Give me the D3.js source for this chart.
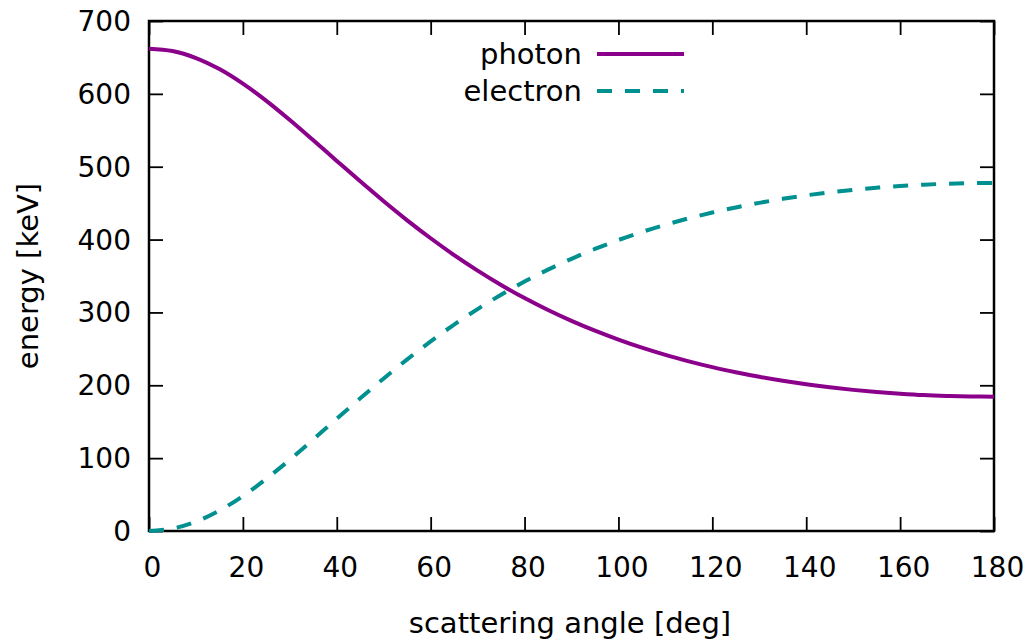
<!DOCTYPE html>
<html><head><meta charset="utf-8">
<script src="https://cdn.jsdelivr.net/npm/d3@7"></script>
<style>body{margin:0;background:#fff}svg{display:block}text{font-family:"DejaVu Sans",sans-serif;fill:#000}</style>
</head><body>
<svg id="c" width="1028" height="642"></svg>
<script>
const angles = [0,5,10,15,20,25,30,35,40,45,50,55,60,65,70,75,80,85,90,95,100,105,110,115,120,125,130,135,140,145,150,155,160,165,170,175,180];
const photon = [662.0,658.8,649.2,634.0,614.0,590.4,564.1,536.3,508.0,479.9,452.6,426.4,401.8,378.7,357.4,337.7,319.7,303.3,288.4,274.9,262.7,251.6,241.7,232.9,224.9,217.9,211.6,206.1,201.3,197.2,193.7,190.8,188.5,186.6,185.4,184.6,184.4];
const electron = [0.0,3.3,12.8,28.0,48.0,71.7,97.9,125.7,154.0,182.1,209.4,235.6,260.2,283.3,304.6,324.3,342.3,358.7,373.6,387.1,399.4,410.4,420.3,429.2,437.1,444.1,450.4,455.9,460.7,464.8,468.3,471.2,473.6,475.4,476.6,477.4,477.7];
const xTicks = [0,20,40,60,80,100,120,140,160,180];
const yTicks = [0,100,200,300,400,500,600,700];
const seriesNames = ["photon","electron"];
const xTitle = "scattering angle [deg]";
const yTitle = "energy [keV]";

const L=149,R=994,T=21,B=531, FS=28, FT=29;
const svg=d3.select("#c");
const x=d3.scaleLinear().domain([0,180]).range([L,R]);
const y=d3.scaleLinear().domain([0,700]).range([B,T]);
const tl=14;

const tickStyle=g=>{g.select(".domain").remove();g.selectAll(".tick line").attr("stroke","#000").attr("stroke-width",1.8);g.selectAll("text").style("font-size",FS+"px").style("font-family","DejaVu Sans");};
const xb=svg.append("g").attr("transform",`translate(0,${B})`).call(d3.axisBottom(x).tickValues(xTicks).tickSize(-tl).tickFormat(d3.format("d"))).call(tickStyle);
xb.selectAll(".tick text").attr("x",3).attr("y",46).attr("dy",null);
svg.append("g").attr("transform",`translate(0,${T})`).call(d3.axisTop(x).tickValues(xTicks).tickSize(-tl).tickFormat("")).call(tickStyle);
const yl=svg.append("g").attr("transform",`translate(${L},0)`).call(d3.axisLeft(y).tickValues(yTicks).tickSize(-tl)).call(tickStyle);
yl.selectAll(".tick text").attr("x",-18).attr("y",9.5).attr("dy",null);
svg.append("g").attr("transform",`translate(${R},0)`).call(d3.axisRight(y).tickValues(yTicks).tickSize(-tl).tickFormat("")).call(tickStyle);

svg.append("rect").attr("x",L).attr("y",T).attr("width",R-L).attr("height",B-T).attr("fill","none").attr("stroke","#000").attr("stroke-width",2.5);

const line=d3.line().x((d,i)=>x(angles[i])).y(d=>y(d)).curve(d3.curveCatmullRom.alpha(0.5));
const colors=["#8b008b","#009090"];
const dashes=[null,"15,13"];
[photon,electron].forEach((s,k)=>{
  svg.append("path").attr("d",line(s)).attr("fill","none").attr("stroke",colors[k]).attr("stroke-width",4).attr("stroke-dasharray",dashes[k]);
});

seriesNames.forEach((n,k)=>{
  const ly=54+37*k;
  svg.append("text").attr("x",582).attr("y",ly+10).attr("text-anchor","end").style("font-size",FT+"px").text(n);
  svg.append("line").attr("x1",597).attr("x2",684).attr("y1",ly).attr("y2",ly).attr("stroke",colors[k]).attr("stroke-width",4).attr("stroke-dasharray",dashes[k]);
});

svg.append("text").attr("x",570).attr("y",633).attr("text-anchor","middle").style("font-size",FT+"px").text(xTitle);
svg.append("text").attr("transform","translate(38,276) rotate(-90)").attr("text-anchor","middle").style("font-size",FT+"px").text(yTitle);
</script>
</body></html>
